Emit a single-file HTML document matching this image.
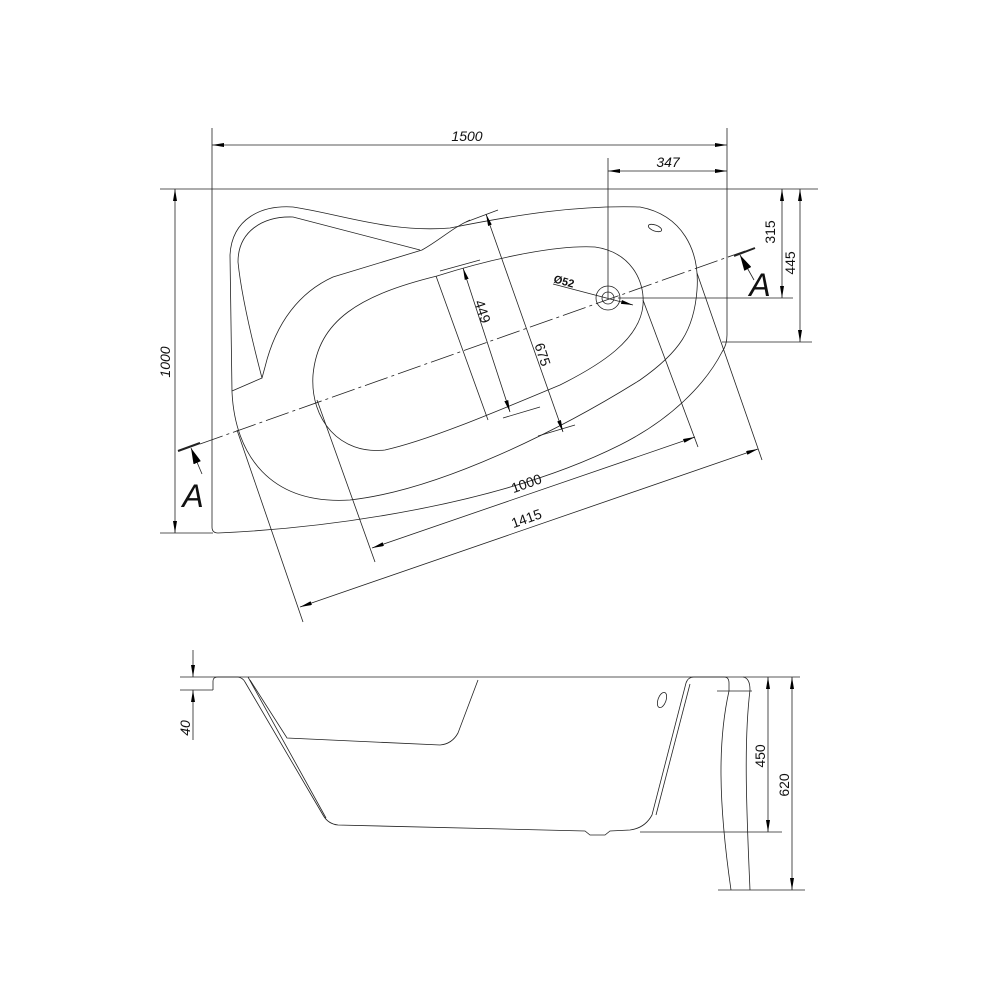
<!DOCTYPE html>
<html><head><meta charset="utf-8"><style>
html,body{margin:0;padding:0;background:#fff}
svg{display:block}
text{font-family:"Liberation Sans",sans-serif;font-size:14px;fill:#111}
.i{font-style:italic}
</style></head><body>
<svg width="1000" height="1000" viewBox="0 0 1000 1000" xmlns="http://www.w3.org/2000/svg">
<defs>
<marker id="a" viewBox="0 0 12 4" refX="12" refY="2" markerWidth="12" markerHeight="4" orient="auto-start-reverse" markerUnits="userSpaceOnUse"><path d="M0,0 L12,2 L0,4 Z" fill="#000"/></marker>
<marker id="b" viewBox="0 0 16 8" refX="16" refY="4" markerWidth="16" markerHeight="8" orient="auto" markerUnits="userSpaceOnUse"><path d="M0,0 L16,4 L0,8 Z" fill="#000"/></marker>
</defs>
<g fill="none" stroke="#222" stroke-width="0.8">
<line x1="212" y1="128" x2="212" y2="189"/>
<line x1="727" y1="128" x2="727" y2="189"/>
<line x1="212" y1="145" x2="727" y2="145" marker-start="url(#a)" marker-end="url(#a)"/>
<line x1="608" y1="158" x2="608" y2="298"/>
<line x1="608" y1="171" x2="727" y2="171" marker-start="url(#a)" marker-end="url(#a)"/>
<line x1="160" y1="189" x2="818" y2="189"/>
<line x1="160" y1="533" x2="213" y2="533"/>
<line x1="175" y1="189" x2="175" y2="533" marker-start="url(#a)" marker-end="url(#a)"/>
<line x1="618" y1="298" x2="793" y2="298"/>
<line x1="722" y1="342" x2="812" y2="342"/>
<line x1="782" y1="189" x2="782" y2="298" marker-start="url(#a)" marker-end="url(#a)"/>
<line x1="800" y1="189" x2="800" y2="342" marker-start="url(#a)" marker-end="url(#a)"/>
<path d="M212,189 L212,527 Q212,533 218,533 C330,528 500,505 620,445 C670,420 705,385 722,352 Q727,345 727,335 L727,189"/>
<path d="M232,392 L230,255 C232,218 262,205 293,207 C340,214 390,233 450,228 C520,214 580,205 640,207 C682,215 700,250 697,290 C694,330 680,352 640,380 C560,430 440,490 350,500 C270,505 235,455 232,392 Z"/>
<path d="M232,391 L262,378 C252,340 241,292 238,262 C238,232 262,216 293,217 L420,250"/>
<path d="M262,378 L265,367 C276,322 300,292 333,277 L422,250 C440,240 452,228 470,220"/>
<path d="M437,276 C500,256 560,245 595,247 C630,252 645,280 643,305 C640,340 600,365 560,385 C500,410 430,440 385,450 C340,455 310,420 313,375 C318,320 360,295 437,276 Z"/>
<circle cx="608" cy="298" r="12"/>
<circle cx="608" cy="298" r="6"/>
<line x1="553" y1="284" x2="633" y2="305" marker-end="url(#a)"/>
<ellipse cx="655" cy="228" rx="7" ry="3" transform="rotate(20 655 228)"/>
<line x1="200" y1="444" x2="745" y2="251" stroke-dasharray="24,4,3,4"/>
<line x1="178" y1="451" x2="200" y2="443" stroke-width="2"/>
<line x1="734" y1="256" x2="755" y2="248" stroke-width="2"/>
<line x1="202" y1="474" x2="191" y2="448" marker-end="url(#b)"/>
<line x1="754" y1="280" x2="740" y2="255" marker-end="url(#b)"/>
<line x1="436" y1="276" x2="488" y2="420"/>
<line x1="440" y1="271" x2="480" y2="260"/>
<line x1="503" y1="418" x2="540" y2="407"/>
<line x1="463" y1="268" x2="510" y2="412" marker-start="url(#a)" marker-end="url(#a)"/>
<line x1="466" y1="222" x2="498" y2="210"/>
<line x1="538" y1="436" x2="575" y2="425"/>
<line x1="486" y1="214" x2="563" y2="432" marker-start="url(#a)" marker-end="url(#a)"/>
<line x1="317" y1="400" x2="375" y2="562"/>
<line x1="643" y1="300" x2="698" y2="447"/>
<line x1="372" y1="548" x2="695" y2="437" marker-start="url(#a)" marker-end="url(#a)"/>
<line x1="237" y1="430" x2="303" y2="622"/>
<line x1="697" y1="273" x2="762" y2="460"/>
<line x1="300" y1="607" x2="758" y2="449" marker-start="url(#a)" marker-end="url(#a)"/>
<line x1="180" y1="677" x2="800" y2="677"/>
<line x1="180" y1="690" x2="213" y2="690"/>
<line x1="193" y1="650" x2="193" y2="677" marker-end="url(#a)"/>
<line x1="193" y1="740" x2="193" y2="690" marker-end="url(#a)"/>
<path d="M213,690 L213,681 Q213,677 218,677 L238,677 Q243,678 245,682 L323,815 Q328,824 338,825 L585,831 L590,835 L605,835 L610,831 L630,830 Q645,828 652,815 L686,683 Q688,677 694,677 L724,677 Q729,677 729,683 L729,691 L717,691"/>
<path d="M248,677 L326,818"/>
<path d="M250,680 L287,738 L440,745 Q452,744 458,733 L478,680"/>
<path d="M690,684 L656,815"/>
<ellipse cx="662" cy="700" rx="4" ry="8" transform="rotate(20 662 700)"/>
<path d="M729,691 C718,740 718,800 731,890"/>
<path d="M743,677 Q750,678 750,690 C744,740 746,800 750,890"/>
<line x1="718" y1="890" x2="805" y2="890"/>
<line x1="729" y1="691" x2="752" y2="691"/>
<line x1="640" y1="832" x2="782" y2="832"/>
<line x1="768" y1="677" x2="768" y2="832" marker-start="url(#a)" marker-end="url(#a)"/>
<line x1="792" y1="677" x2="792" y2="890" marker-start="url(#a)" marker-end="url(#a)"/>
</g>
<text class="i" x="467" y="141" text-anchor="middle">1500</text>
<text class="i" x="668" y="167" text-anchor="middle">347</text>
<text class="i" transform="translate(170,362) rotate(-90)" text-anchor="middle">1000</text>
<text transform="translate(775,232) rotate(-90)" text-anchor="middle">315</text>
<text transform="translate(795,263) rotate(-90)" text-anchor="middle">445</text>
<text transform="translate(563,285) rotate(15)" text-anchor="middle" style="font-size:11px;font-weight:bold">Ø52</text>
<text transform="translate(478,313) rotate(72)" text-anchor="middle">449</text>
<text transform="translate(538,356) rotate(72)" text-anchor="middle">675</text>
<text transform="translate(528,488) rotate(-19.5)" text-anchor="middle">1000</text>
<text transform="translate(528,523) rotate(-19.5)" text-anchor="middle">1415</text>
<text class="i" x="193" y="507" text-anchor="middle" style="font-size:32px">A</text>
<text class="i" x="760" y="296" text-anchor="middle" style="font-size:32px">A</text>
<text class="i" transform="translate(190,728) rotate(-90)" text-anchor="middle">40</text>
<text transform="translate(765,756) rotate(-90)" text-anchor="middle">450</text>
<text transform="translate(789,785) rotate(-90)" text-anchor="middle">620</text>
</svg>
</body></html>
